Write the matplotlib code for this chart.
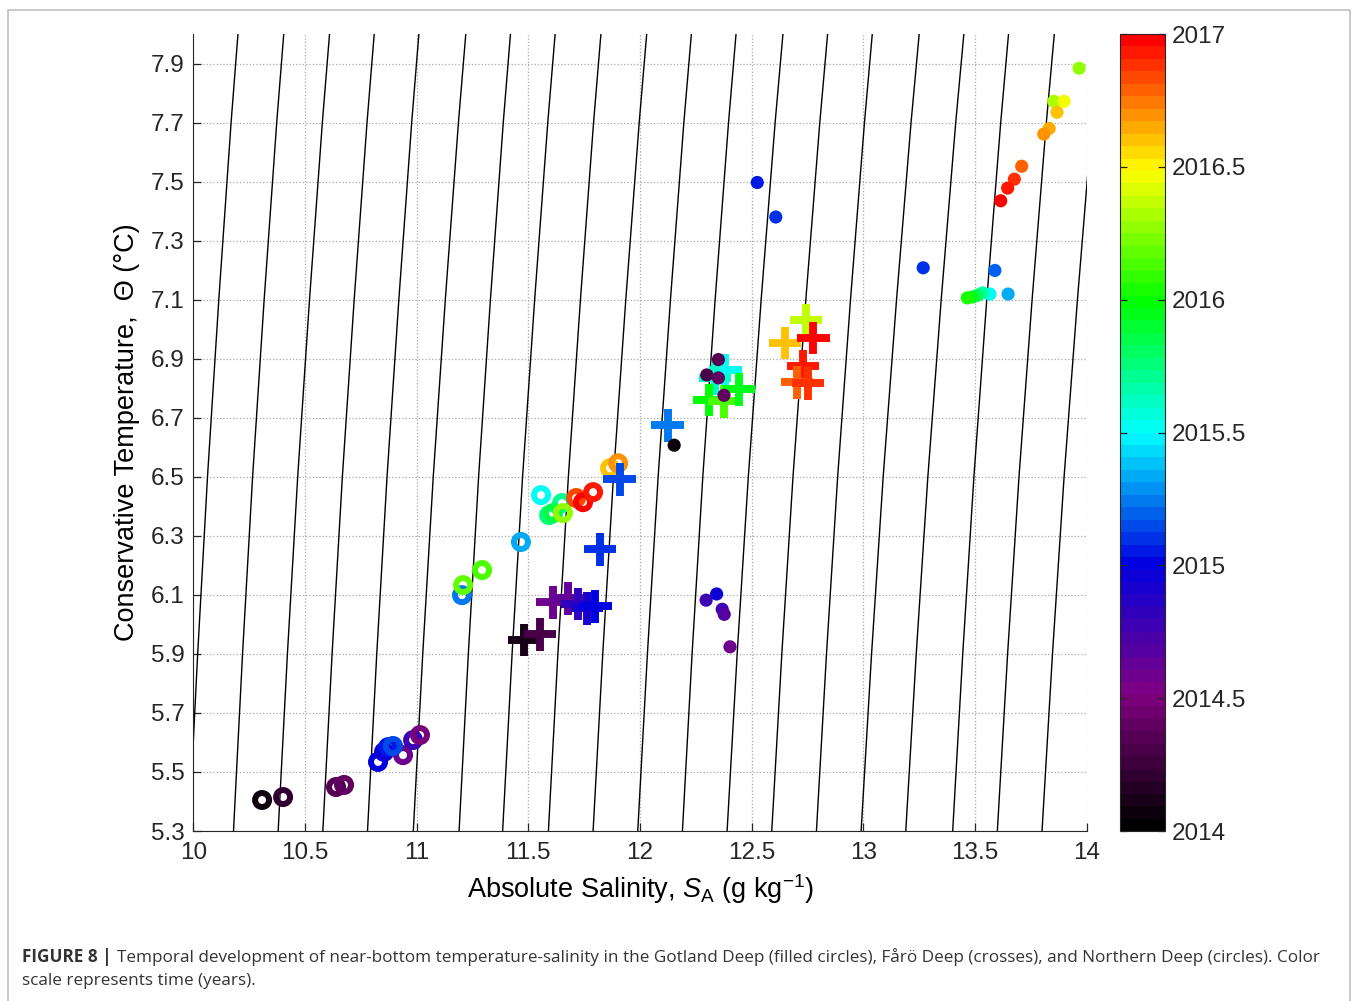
#!/usr/bin/env python
# T-S diagram: near-bottom temperature-salinity, coloured by time

import numpy as np
import matplotlib
matplotlib.use('Agg')
import matplotlib.pyplot as plt
from matplotlib.colors import LinearSegmentedColormap, Normalize
from matplotlib.patches import Rectangle

matplotlib.rcParams.update({'font.family': 'Liberation Sans',
    'mathtext.fontset': 'custom', 'mathtext.rm': 'Liberation Sans',
    'mathtext.it': 'Liberation Sans:italic'})

# Gotland Deep (filled circles)
gd_sa = [13.966, 13.853, 13.899, 13.867, 13.832, 13.808, 13.709, 13.676, 13.646, 13.615,
         13.268, 13.589, 13.648, 13.567, 13.534, 13.512, 13.488, 13.465,
         12.525, 12.608, 12.351, 12.299, 12.351, 12.376, 12.153,
         12.296, 12.343, 12.368, 12.377, 12.403]
gd_ct = [7.884, 7.772, 7.772, 7.735, 7.680, 7.661, 7.552, 7.508, 7.478, 7.435,
         7.208, 7.199, 7.119, 7.119, 7.123, 7.115, 7.109, 7.106,
         7.497, 7.380, 6.897, 6.845, 6.835, 6.776, 6.607,
         6.082, 6.103, 6.051, 6.034, 5.924]
gd_t = [2016.25, 2016.3, 2016.48, 2016.6, 2016.65, 2016.7, 2016.8, 2016.9, 2016.92, 2017.0,
        2015.1, 2015.2, 2015.35, 2015.5, 2015.65, 2015.8, 2015.95, 2016.02,
        2015.05, 2015.1, 2014.35, 2014.3, 2014.38, 2014.42, 2014.05,
        2014.75, 2014.95, 2014.75, 2014.7, 2014.6]

# Faro Deep (crosses)
fd_sa = [12.125, 11.910, 11.821, 11.610, 11.678, 11.722, 11.763, 11.799, 11.481, 11.552,
         12.381, 12.336, 12.309, 12.376, 12.443,
         12.743, 12.649, 12.775, 12.730, 12.703, 12.752]
fd_ct = [6.675, 6.492, 6.255, 6.075, 6.089, 6.069, 6.055, 6.062, 5.947, 5.967,
         6.861, 6.834, 6.760, 6.756, 6.797,
         7.030, 6.953, 6.970, 6.875, 6.820, 6.817]
fd_t = [2015.25, 2015.15, 2015.1, 2014.6, 2014.65, 2014.8, 2014.92, 2015.0, 2014.12, 2014.3,
        2015.5, 2015.6, 2016.0, 2016.15, 2015.95,
        2016.35, 2016.6, 2016.97, 2016.95, 2016.8, 2016.9]

# Northern Deep (open circles)
nd_sa = [10.308, 10.402, 10.639, 10.675, 10.939, 10.827, 10.854, 10.872, 10.894, 10.984, 11.015,
         11.203, 11.208, 11.293, 11.467, 11.557, 11.593, 11.651, 11.611, 11.655,
         11.714, 11.745, 11.790, 11.866, 11.902]
nd_ct = [5.405, 5.415, 5.449, 5.456, 5.557, 5.534, 5.568, 5.584, 5.588, 5.608, 5.625,
         6.099, 6.133, 6.184, 6.279, 6.438, 6.370, 6.411, 6.377, 6.377,
         6.428, 6.414, 6.448, 6.529, 6.546]
nd_t = [2014.05, 2014.2, 2014.35, 2014.38, 2014.6, 2015.0, 2014.97, 2015.05, 2015.15, 2014.75, 2014.5,
        2015.25, 2016.2, 2016.12, 2015.35, 2015.5, 2015.75, 2015.7, 2015.85, 2016.25,
        2016.85, 2016.97, 2016.93, 2016.6, 2016.7]

# isopycnals: salinity at the bottom (5.3) and top (8.0) of the plot,
# and the fraction of that shift reached at each temperature level
iso_sa_bottom = [9.98, 10.18, 10.38, 10.58, 10.78, 10.985, 11.19, 11.385, 11.59, 11.79,
                 11.99, 12.19, 12.39, 12.59, 12.79, 12.99, 13.19, 13.40, 13.60, 13.80]
iso_sa_top = [10.20, 10.405, 10.61, 10.81, 11.01, 11.22, 11.42, 11.62, 11.825, 12.03,
              12.23, 12.43, 12.64, 12.84, 13.04, 13.25, 13.45, 13.65, 13.855, 14.06]
iso_ct = [5.3, 5.9, 6.5, 7.1, 7.7, 8.0]
iso_frac = [0.0, 0.18, 0.38, 0.61, 0.86, 1.0]

cb_ticks = [2014, 2014.5, 2015, 2015.5, 2016, 2016.5, 2017]
cb_labels = ['2014', '2014.5', '2015', '2015.5', '2016', '2016.5', '2017']

cmap = LinearSegmentedColormap.from_list('years',
    [(0.0, '#000000'), (1/6, '#800080'), (2/6, '#0000e0'), (3/6, '#00ffff'),
     (4/6, '#00ff00'), (5/6, '#ffff00'), (1.0, '#ff0000')], N=64)
norm = Normalize(2014, 2017)

fig = plt.figure(figsize=(13.58, 10.01), dpi=100)
ax = fig.add_axes([0.14234, 0.16983, 0.65788, 0.7962])

for sb, st in zip(iso_sa_bottom, iso_sa_top):
    ax.plot(sb + (st - sb) * np.array(iso_frac), iso_ct, c='k', lw=1.0, zorder=2)

ax.scatter(nd_sa, nd_ct, s=102, facecolors='none', edgecolors=cmap(norm(nd_t)),
           linewidths=4.3, zorder=3)
ax.scatter(fd_sa, fd_ct, s=560, marker='+', c=fd_t, cmap=cmap, norm=norm,
           linewidths=5.7, zorder=4)
ax.scatter(gd_sa, gd_ct, s=90, c=gd_t, cmap=cmap, norm=norm, edgecolors='none', zorder=5)

ax.set(xlim=(10, 14), ylim=(5.3, 8.0))
ax.set_xticks(np.arange(10, 14.01, 0.5))
ax.set_xticklabels(['10', '10.5', '11', '11.5', '12', '12.5', '13', '13.5', '14'])
ax.set_yticks(np.arange(5.3, 7.95, 0.2))
ax.set_yticklabels(['%.1f' % v for v in np.arange(5.3, 7.95, 0.2)])
ax.grid(True, ls=':', color='#a8a8a8', lw=0.9)
ax.set_axisbelow(True)
for side in ['top', 'right']:
    ax.spines[side].set_visible(False)
for side in ['left', 'bottom']:
    ax.spines[side].set_color('#262626')
ax.tick_params(direction='in', length=6, width=0.9, colors='#262626', labelsize=17.5)
ax.tick_params(axis='x', pad=8)
ax.tick_params(axis='y', pad=6)
ax.set_xlabel(r'Absolute Salinity, $S_{\rm A}$ (g kg$^{-1}$)', fontsize=19.5, labelpad=6)
ax.set_ylabel('Conservative Temperature,  Θ (°C)', fontsize=19.5, labelpad=8)

cax = fig.add_axes([1120/1358, 0.16983, 45/1358, 0.7962])
cb = fig.colorbar(plt.cm.ScalarMappable(norm=norm, cmap=cmap), cax=cax, ticks=cb_ticks)
cb.ax.set_yticklabels(cb_labels)
cb.ax.tick_params(direction='in', length=5, width=0.9, left=True, right=True,
                  labelsize=17.5, pad=5, colors='#262626')
cb.outline.set_edgecolor('#262626')

# frame and caption
fig.patches.append(Rectangle((8/1358, -0.01), 1342/1358, 1.0, fill=False,
                             edgecolor='#c0c0c0', lw=1.2, transform=fig.transFigure))
t1 = fig.text(22/1358, 1 - 957/1001, 'FIGURE 8 |', fontsize=12.3, weight='bold',
              color='#333333', va='center', family='Open Sans')
fig.canvas.draw()
bb = t1.get_window_extent()
fig.text((bb.x1 + 5)/1358, 1 - 957/1001,
         'Temporal development of near-bottom temperature-salinity in the Gotland Deep '
         '(filled circles), Fårö Deep (crosses), and Northern Deep (circles). Color',
         fontsize=12.3, color='#333333', va='center', family='Open Sans')
fig.text(22/1358, 1 - 981/1001, 'scale represents time (years).',
         fontsize=12.3, color='#333333', va='center', family='Open Sans')

plt.savefig('out.png', dpi=100)
